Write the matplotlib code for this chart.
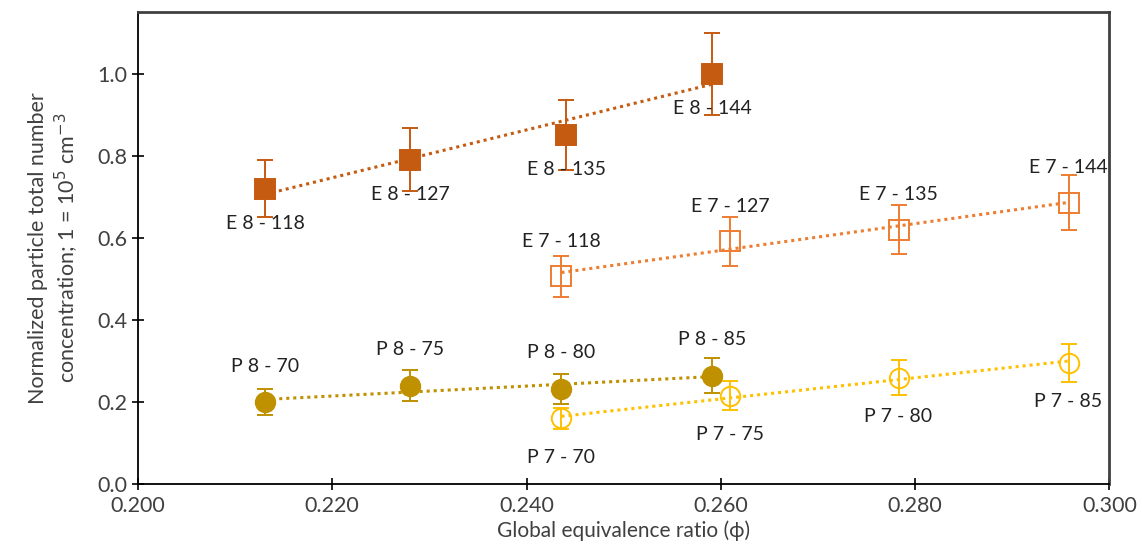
import numpy as np
import matplotlib.pyplot as plt

plt.rcParams['font.family'] = ['Lato', 'DejaVu Sans']

# E8 series (filled squares)
e8_x = [0.2131, 0.2280, 0.2441, 0.2591]
e8_y = [0.72, 0.79, 0.85, 1.00]
e8_err = [0.070, 0.077, 0.085, 0.100]
e8_lab = ['E 8 - 118', 'E 8 - 127', 'E 8 - 135', 'E 8 - 144']

# E7 series (open squares)
e7_x = [0.2436, 0.2610, 0.2783, 0.2958]
e7_y = [0.506, 0.591, 0.620, 0.686]
e7_err = [0.050, 0.059, 0.060, 0.068]
e7_lab = ['E 7 - 118', 'E 7 - 127', 'E 7 - 135', 'E 7 - 144']

# P8 series (filled circles)
p8_x = [0.2131, 0.2280, 0.2436, 0.2591]
p8_y = [0.199, 0.240, 0.232, 0.264]
p8_err = [0.032, 0.038, 0.037, 0.043]
p8_lab = ['P 8 - 70', 'P 8 - 75', 'P 8 - 80', 'P 8 - 85']

# P7 series (open circles)
p7_x = [0.2436, 0.2610, 0.2783, 0.2958]
p7_y = [0.160, 0.215, 0.259, 0.295]
p7_err = [0.025, 0.035, 0.042, 0.046]
p7_lab = ['P 7 - 70', 'P 7 - 75', 'P 7 - 80', 'P 7 - 85']

series = [
    (e8_x, e8_y, e8_err, e8_lab, '#C55A11', 's', True, -25),
    (e7_x, e7_y, e7_err, e7_lab, '#ED7D31', 's', False, 25),
    (p8_x, p8_y, p8_err, p8_lab, '#BF9000', 'o', True, 26),
    (p7_x, p7_y, p7_err, p7_lab, '#FFC000', 'o', False, -28),
]

fig = plt.figure(figsize=(11.42, 5.5), dpi=100)
ax = fig.add_axes([0.1208, 0.12, 0.8506, 0.858])

for xs, ys, err, labs, col, mk, filled, off in series:
    # linear trendline
    k, b = np.polyfit(xs, ys, 1)
    tx = np.array([min(xs), max(xs)])
    ax.plot(tx, k * tx + b, color=col, linestyle=(0, (1, 1.3)), linewidth=2.2, zorder=2)
    ax.errorbar(xs, ys, yerr=err, fmt=mk, color=col, ecolor=col, elinewidth=1.4,
                capsize=6, capthick=1.4, markersize=14,
                markerfacecolor=col if filled else 'none',
                markeredgecolor=col, markeredgewidth=1.4, zorder=3)
    for x, y, t in zip(xs, ys, labs):
        ax.annotate(t, (x, y), xytext=(0, off), textcoords='offset points',
                    ha='center', va='center', fontsize=14, color='#222222')

ax.set_xlim(0.2, 0.3)
ax.set_ylim(0, 1.15)
ax.set_xticks(np.arange(0.2, 0.3001, 0.02))
ax.set_xticklabels(['0.200', '0.220', '0.240', '0.260', '0.280', '0.300'])
ax.set_yticks(np.arange(0, 1.01, 0.2))
ax.set_yticklabels(['0.0', '0.2', '0.4', '0.6', '0.8', '1.0'])
ax.tick_params(direction='inout', length=8, width=1.2, labelsize=15.5,
               labelcolor='#404040')
ax.tick_params(axis='x', pad=5)

for s in ['left', 'bottom']:
    ax.spines[s].set_linewidth(1.3)
    ax.spines[s].set_color('black')
for s in ['top', 'right']:
    ax.spines[s].set_linewidth(2)
    ax.spines[s].set_color('#404040')

ax.set_xlabel('Global equivalence ratio (ϕ)', fontsize=15, color='#404040', labelpad=3)
ax.set_ylabel('Normalized particle total number\nconcentration; 1 = 10$^5$ cm$^{-3}$',
              fontsize=15.5, color='#404040', labelpad=12)

fig.savefig('out.png', dpi=100)
